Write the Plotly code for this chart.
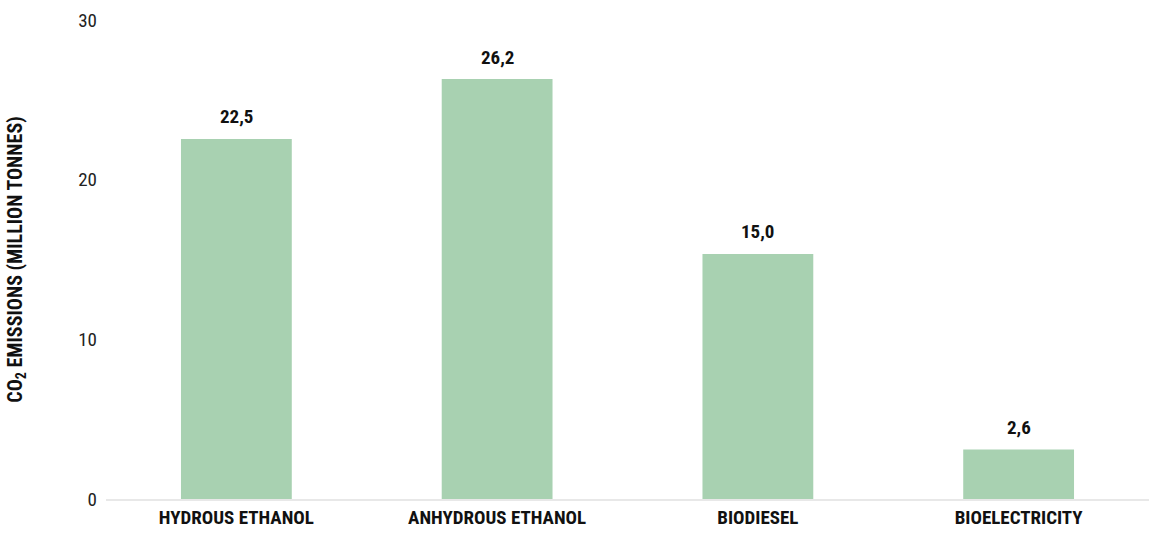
import plotly.graph_objects as go

categories = ["HYDROUS ETHANOL", "ANHYDROUS ETHANOL", "BIODIESEL", "BIOELECTRICITY"]
bar_heights = [22.55, 26.3, 15.35, 3.1]
value_labels = ["22,5", "26,2", "15,0", "2,6"]
y_ticks = [0, 10, 20, 30]

FONT = "Liberation Sans Narrow, Roboto Condensed, Arial Narrow, Roboto, sans-serif"

fig = go.Figure(go.Bar(
    x=categories,
    y=bar_heights,
    marker=dict(color="#a8d1b1", line=dict(width=0)),
    hoverinfo="skip",
))

for cat, h, lab in zip(categories, bar_heights, value_labels):
    fig.add_annotation(
        x=cat, y=h, text=lab, showarrow=False, yanchor="middle", yshift=22,
        font=dict(family=FONT, size=19, color="#111111", weight="bold"),
    )

fig.update_layout(
    width=1150, height=534,
    margin=dict(l=106, r=1, t=20, b=35),
    paper_bgcolor="white", plot_bgcolor="white",
    bargap=0.575,
    showlegend=False,
    font=dict(family=FONT),
)
fig.update_xaxes(
    showgrid=False, showline=True, linecolor="#e8e8e8", linewidth=2,
    ticks="", tickfont=dict(family=FONT, size=19, color="#111111", weight="bold"),
)
fig.update_yaxes(
    range=[0, 30], tickvals=y_ticks, showgrid=False, zeroline=False, showline=False,
    ticks="", ticklabelstandoff=8,
    tickfont=dict(family=FONT, size=19, color="#222222"),
    title=dict(text="CO<sub>2</sub> EMISSIONS (MILLION TONNES)",
               font=dict(family=FONT, size=20, color="#111111", weight="bold"),
               standoff=50),
)

fig.write_html("out.html")
